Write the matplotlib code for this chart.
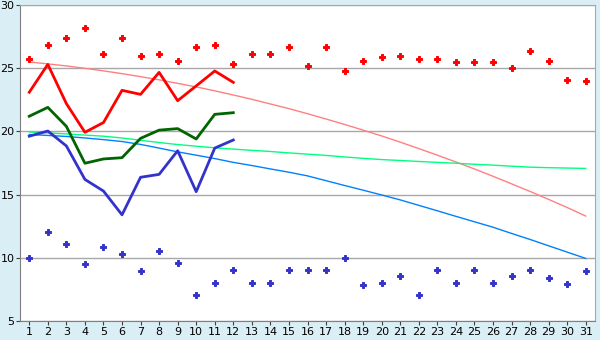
import numpy as np
import matplotlib.pyplot as plt

days = np.arange(1, 32)

# scattered daily points
red_pts = [25.7, 26.8, 27.4, 28.2, 26.1, 27.4, 26.0, 26.1, 25.6, 26.7,
           26.8, 25.3, 26.1, 26.1, 26.65, 25.15, 26.65, 24.8, 25.55, 25.85,
           26.0, 25.7, 25.7, 25.47, 25.47, 25.47, 25.0, 26.4, 25.6, 24.05, 23.97]
blue_pts = [10.0, 12.06, 11.1, 9.52, 10.87, 10.3, 8.97, 10.56, 9.6, 7.06,
            8.02, 9.05, 8.02, 8.02, 9.05, 9.05, 9.05, 10.0, 7.86, 8.02,
            8.57, 7.06, 9.05, 8.02, 9.05, 8.02, 8.57, 9.05, 8.41, 7.94, 8.97]

# measured lines (first 12 days)
red_line = [23.1, 25.3, 22.2, 19.93, 20.7, 23.25, 22.93, 24.67, 22.43, 23.6, 24.78, 23.88]
green_line = [21.2, 21.9, 20.4, 17.48, 17.82, 17.92, 19.45, 20.1, 20.22, 19.4, 21.35, 21.48]
blue_line = [19.62, 20.03, 18.85, 16.2, 15.28, 13.4, 16.37, 16.6, 18.47, 15.23, 18.68, 19.32]

# trend curves
red_trend = [25.49, 25.34, 25.18, 24.99, 24.79, 24.57, 24.33, 24.08, 23.8, 23.52,
             23.21, 22.88, 22.54, 22.17, 21.8, 21.4, 20.98, 20.55, 20.1, 19.64,
             19.15, 18.64, 18.12, 17.58, 17.03, 16.45, 15.85, 15.25, 14.62, 13.98, 13.3]
green_trend = [19.95, 19.88, 19.8, 19.71, 19.62, 19.48, 19.3, 19.12, 18.96, 18.83,
               18.7, 18.6, 18.5, 18.41, 18.3, 18.2, 18.1, 17.98, 17.87, 17.77,
               17.7, 17.62, 17.55, 17.48, 17.4, 17.33, 17.25, 17.17, 17.13, 17.1, 17.07]
blue_trend = [19.75, 19.68, 19.6, 19.48, 19.35, 19.2, 18.97, 18.68, 18.38, 18.12,
              17.85, 17.55, 17.3, 17.03, 16.77, 16.48, 16.1, 15.72, 15.35, 14.97,
              14.58, 14.15, 13.72, 13.28, 12.85, 12.42, 11.93, 11.45, 10.95, 10.45, 9.95]

fig = plt.figure(figsize=(6, 3.4), dpi=100, facecolor='#daeef5')
ax = fig.add_axes([20 / 600, 19 / 340, 575 / 600, 316 / 340])
ax.set_facecolor('white')

ax.plot(days, red_trend, color='#ff8080', lw=1)
ax.plot(days, green_trend, color='#00ff80', lw=1)
ax.plot(days, blue_trend, color='#0080ff', lw=1)

ax.plot(days[:12], red_line, color='#ff0000', lw=2)
ax.plot(days[:12], green_line, color='#006400', lw=2)
ax.plot(days[:12], blue_line, color='#3333cc', lw=2)

ax.plot(days, red_pts, ls='none', marker='P', ms=5, color='#ff0000', mew=0.7)
ax.plot(days, blue_pts, ls='none', marker='P', ms=5, color='#3333cc', mew=0.7)

ax.set_xlim(0.5, 31.5)
ax.set_ylim(5, 30)
ax.set_xticks(days)
ax.set_yticks([5, 10, 15, 20, 25, 30])
ax.yaxis.grid(True, color='#a8a8a8', lw=1)
ax.set_axisbelow(True)
ax.tick_params(labelsize=8, length=3, colors='#404040', labelcolor='black', pad=1)
for s in ['top', 'right']:
    ax.spines[s].set_color('#a8a8a8')
for s in ['left', 'bottom']:
    ax.spines[s].set_color('#808080')

fig.savefig('out.png', dpi=100, facecolor=fig.get_facecolor())
